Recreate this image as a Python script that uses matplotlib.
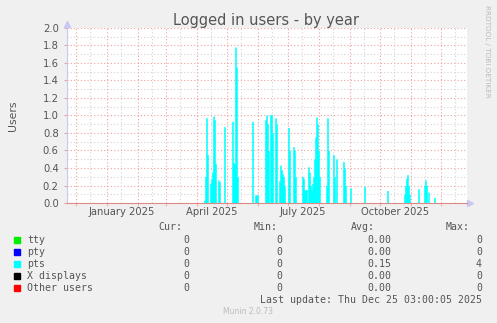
import numpy as np
import matplotlib
matplotlib.use("Agg")
import matplotlib.pyplot as plt

# graph window: 400 days ending at the last update
start = np.datetime64("2024-11-22")
n_days = 400

# pts sessions (day offset from start, users)
pts_day = [137, 138, 139, 140, 143, 144, 145, 146, 147, 148, 151, 152, 157,
           165, 166, 167, 168, 169, 170, 185, 188, 189, 190, 198, 199, 200,
           201, 203, 204, 205, 208, 209, 212, 213, 214, 215, 216, 217, 221,
           222, 226, 227, 228, 235, 236, 237, 238, 239, 241, 242, 243, 244,
           245, 246, 247, 248, 249, 250, 251, 252, 259, 260, 261, 266, 267,
           269, 276, 277, 278, 283, 297, 320, 337, 338, 339, 340, 341, 342,
           351, 357, 358, 359, 361, 367]
pts_val = [0.03, 0.30, 0.97, 0.55, 0.22, 0.27, 0.35, 0.99, 0.95, 0.45, 0.26,
           0.24, 0.87, 0.93, 0.46, 0.45, 1.78, 1.55, 0.30, 0.93, 0.09, 0.09,
           0.09, 0.95, 1.00, 0.90, 0.60, 1.01, 1.01, 0.80, 0.97, 0.90, 0.25,
           0.43, 0.38, 0.33, 0.30, 0.20, 0.86, 0.60, 0.64, 0.60, 0.30, 0.30,
           0.28, 0.15, 0.15, 0.15, 0.41, 0.35, 0.20, 0.15, 0.22, 0.30, 0.50,
           0.75, 0.98, 0.90, 0.60, 0.30, 0.20, 0.97, 0.60, 0.55, 0.30, 0.50,
           0.47, 0.40, 0.20, 0.17, 0.19, 0.14, 0.10, 0.20, 0.28, 0.32, 0.20,
           0.10, 0.16, 0.20, 0.26, 0.20, 0.12, 0.06]

series = ["tty", "pty", "pts", "X displays", "Other users"]
colors = ["#00EE00", "#0000FF", "#00FFFF", "#000000", "#FF0000"]
cur = ["0", "0", "0", "0", "0"]
vmin = ["0", "0", "0", "0", "0"]
avg = ["0.00", "0.00", "0.15", "0.00", "0.00"]
vmax = ["0", "0", "4", "0", "0"]

x_labels = ["January 2025", "April 2025", "July 2025", "October 2025"]
x_label_dates = ["2025-01-16", "2025-04-16", "2025-07-16", "2025-10-16"]

pts = np.zeros(n_days)
pts[pts_day] = pts_val
days = np.arange(n_days + 1)
pts_step = np.append(pts, 0)

W, H = 497, 323
fig = plt.figure(figsize=(W / 100, H / 100), dpi=100, facecolor="#F0F0F0")
ax = fig.add_axes([67 / W, (H - 203) / H, 400 / W, 175 / H], facecolor="white")

# grid
for y in np.arange(0.1, 2.0, 0.2):
    ax.axhline(y, color="#D4D4D4", lw=0.8, ls=(0, (1, 2)), zorder=1)
for y in np.arange(0.2, 2.01, 0.2):
    ax.axhline(y, color="#EFA0A0", lw=0.8, ls=(0, (1, 2)), zorder=1)

month_starts = np.arange(np.datetime64("2024-12"), np.datetime64("2026-01"),
                         dtype="datetime64[M]").astype("datetime64[D]")
for m in month_starts:
    d = (m - start).astype(int)
    if 0 < d < n_days:
        ax.axvline(d, color="#EFA0A0", lw=0.8, ls=(0, (1, 2)), zorder=1)
    d15 = d + 14
    if 0 < d15 < n_days:
        ax.axvline(d15, color="#D4D4D4", lw=0.8, ls=(0, (1, 2)), zorder=1)

ax.fill_between(days, pts_step, step="post", color="#00FFFF", lw=0.4,
                edgecolor="#00FFFF", zorder=3)

ax.set_xlim(0, n_days)
ax.set_ylim(0, 2.0)
ax.set_yticks(np.arange(0, 2.01, 0.2))
ax.set_yticklabels(["%.1f" % v for v in np.arange(0, 2.01, 0.2)])
lab_pos = [(np.datetime64(s) - start).astype(int) for s in x_label_dates]
ax.set_xticks(lab_pos)
ax.set_xticklabels(x_labels)
ax.set_xticks([(m - start).astype(int) for m in month_starts
               if 0 < (m - start).astype(int) < n_days], minor=True)
ax.tick_params(axis="x", which="major", length=0, pad=3, labelsize=7.2,
               labelcolor="#555555")
ax.tick_params(axis="x", which="minor", length=2, color="#EFA0A0")
ax.tick_params(axis="y", length=2, color="#EFA0A0", pad=4, labelsize=7.2,
               labelcolor="#555555")

for s in ["top", "right"]:
    ax.spines[s].set_visible(False)
ax.spines["left"].set_color("#C8C8F4")
ax.spines["bottom"].set_color("#E08888")
ax.spines["bottom"].set_zorder(5)
ax.plot([0], [1.025], marker="^", ms=4, color="#C8C8F4", clip_on=False,
        transform=ax.transAxes)
ax.plot([1.008], [0], marker=">", ms=4, color="#C8C8F4", clip_on=False,
        transform=ax.transAxes)

ax.set_ylabel("Users", fontsize=7.8, color="#555555", labelpad=18)

fig.text(266 / W, 1 - 20 / H, "Logged in users - by year", ha="center",
         va="center", fontsize=10.5, color="#555555")
fig.text(487 / W, 1 - 5 / H, "RRDTOOL / TOBI OETIKER", rotation=270,
         ha="center", va="top", fontsize=5.2, color="#BBBBBB")

mono = "DejaVu Sans Mono"
fs = 7.1
tc = "#555555"
hy = 1 - 227 / H
for txt, x in zip(["Cur:", "Min:", "Avg:", "Max:"], [182, 278, 375, 470]):
    fig.text(x / W, hy, txt, ha="right", va="center", family=mono,
             fontsize=fs, color=tc)
for i, name in enumerate(series):
    y = 1 - (240 + 12 * i) / H
    fig.patches.append(plt.Rectangle((14 / W, y - 3 / H), 6 / W, 6 / H,
                                     transform=fig.transFigure,
                                     color=colors[i]))
    fig.text(27 / W, y, name, ha="left", va="center", family=mono,
             fontsize=fs, color=tc)
    for vals, x in zip([cur, vmin, avg, vmax], [189, 282, 391, 482]):
        fig.text(x / W, y, vals[i], ha="right", va="center", family=mono,
                 fontsize=fs, color=tc)
fig.text(482 / W, 1 - 300 / H, "Last update: Thu Dec 25 03:00:05 2025",
         ha="right", va="center", family=mono, fontsize=fs, color=tc)
fig.text(248 / W, 1 - 312 / H, "Munin 2.0.73", ha="center", va="center",
         fontsize=5.5, color="#BBBBBB")

fig.savefig("out.png", dpi=100, facecolor=fig.get_facecolor())
